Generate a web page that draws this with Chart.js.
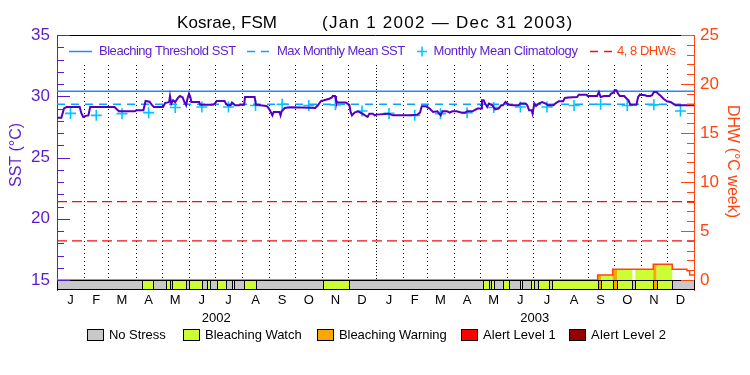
<!DOCTYPE html>
<html>
<head>
<meta charset="utf-8">
<script src="https://cdn.jsdelivr.net/npm/chart.js@4.4.1/dist/chart.umd.min.js"></script>
<style>
html,body{margin:0;padding:0;background:#fff;}
#box{position:relative;width:750px;height:375px;}
</style>
</head>
<body>
<div id="box"><canvas id="chart"></canvas></div>
<script>
// ---------------- data ----------------
const siteName = "Kosrae, FSM";
const periodLabel = "(Jan 1 2002 \u2014 Dec 31 2003)";
const yearLabels = ["2002", "2003"];
const monthLetters = ["J","F","M","A","M","J","J","A","S","O","N","D"];
const monthLengths = [31,28,31,30,31,30,31,31,30,31,30,31];

// SST (°C), day index from Jan 1 2002
const sstDay = [0,5,8,11,26,28,30,33,36,38,66,68.5,71,89,91,99,101.5,106,108.5,111,121.5,124,127,128.5,129.5,131,133,135.5,138.5,141,144,146,148,149.5,151.3,152.8,154,163,164,179,181,183,192,194,196,199,200.5,202,204,209,210,214.5,215.5,226.5,228,231,233,240,241.5,244,246.8,248.3,255,256.2,257.5,261,266.7,291,296,299,302.5,306,312,315,316,318.6,319.7,321.6,331,335,336.5,338,341,345,350,353,356,358,362,364,366,380,385,405,413,416,418,423,427,431,436,439.7,441.6,447,450,453,458,464,468,470,476,478,482,486,487,489,490,493,495,499,502,506,509,511,514,518,522,529,531,537,539,541,544,545,547,549,552,556,560,563,569,571,575,580,582,586,596,598,607,608,619,621,623,627,633,635,638,639,641,643,645,650,651,653,655,657,664,666,668,674,676,680,682,684,687,689,692,695,699,703,706,709,730];
const sstValue = [28.25,28.25,29.0,29.12,29.12,28.6,28.31,28.4,28.44,29.12,29.12,28.93,28.77,28.77,28.85,28.85,29.61,29.55,29.31,29.12,29.12,29.45,29.5,29.53,30.02,29.4,29.67,29.53,29.86,30.02,29.9,29.53,29.26,29.8,30.21,29.94,29.53,29.53,29.31,29.31,29.4,29.61,29.61,29.35,29.26,29.26,29.48,29.4,29.26,29.26,29.31,29.31,29.94,29.94,29.31,29.31,29.26,29.2,29.12,28.85,28.44,28.72,28.72,28.44,28.77,29.04,29.1,29.06,29.04,29.26,29.61,29.67,29.8,29.9,30.02,30.02,29.67,29.48,29.48,29.3,28.72,28.44,28.66,28.77,28.58,28.44,28.31,28.58,28.58,28.44,28.5,28.58,28.44,28.44,28.5,28.66,29.18,29.18,28.99,28.71,28.77,28.44,28.77,28.77,28.66,28.77,28.77,28.66,28.66,28.77,28.77,28.85,28.99,28.99,29.67,29.67,29.48,29.12,29.4,29.26,28.93,28.99,29.26,29.26,29.53,29.31,29.26,29.26,29.4,29.4,29.26,28.85,28.85,28.58,29.4,29.2,29.4,29.53,29.4,29.26,29.26,29.4,29.59,29.59,29.86,29.9,29.94,30.13,30.13,30.02,30.02,30.35,29.94,30.02,30.02,30.21,30.3,30.48,30.48,30.21,30.02,30.02,29.94,29.8,29.67,29.31,29.31,29.94,30.13,30.08,30.02,30.02,30.08,30.35,30.35,30.21,30.02,29.8,29.59,29.53,29.4,29.26,29.26];

// Monthly mean climatology (°C), Jan..Dec
const climatologyMonthly = [28.6,28.44,28.58,28.66,29.08,29.12,29.12,29.25,29.35,29.25,29.3,28.8];
const maxMonthlyMean = 29.35;
const bleachingThreshold = 30.4;
const dhwGuideLevels = [4, 8];

// Degree Heating Weeks (°C week), value holds from dhwDay[i] until dhwDay[i+1]
const dhwDay   = [0, 619.6, 636.8, 683.3, 705.1, 722, 725, 730];
const dhwValue = [0, 0.5,   1.1,   1.6,   1.1,   0.95, 0.5, 0.5];

// Stress level segments: level holds from stressStart[i] until next start
const stressStart = [0,97.1,109.7,125.3,129.5,131.4,147.5,150.9,165.8,171.6,175.3,183,193.3,200.2,203.2,213.9,227.7,304.5,335,487.8,494.7,497,501.1,511.5,518.3,530.6,532.9,543.6,547,550.9,564.2,566.9,619.6,623.4,636.8,642.1,659.3,662.7,683.3,687.2,705.1];
const stressLevel = [0,1,0,1,0,1,0,1,0,1,0,1,0,1,0,1,0,1,0,1,0,1,0,1,0,1,0,1,0,1,0,1,2,1,2,1,0,1,2,1,0];
const stressNames = ["No Stress","Bleaching Watch","Bleaching Warning","Alert Level 1","Alert Level 2"];

// ---------------- styles ----------------
const FONT = "'Liberation Sans', Arial, sans-serif";
const purple = '#5a1ccf';
const sstColor = '#5400c4';
const orange = '#ff4410';
const thrColor = '#1e8cff';
const mmmColor = '#0aa4ff';
const climColor = '#00c4ff';
const guideColor = '#ee1111';
const stressColors = ['#c8c8c8','#ccff33','#f8a800','#ff0000','#960000'];

// derived calendar helpers
const monthStarts = [];
let acc = 0;
for (let yi = 0; yi < yearLabels.length; yi++) {
  for (let m = 0; m < 12; m++) { monthStarts.push(acc); acc += monthLengths[m]; }
}
const totalDays = acc;
const monthMids = monthStarts.map((s, i) => s + monthLengths[i % 12] / 2);
const yearMids = yearLabels.map((_, i) => i * 365 + 182.5);
const climPoints = monthMids.map((d, i) => ({x: d, y: climatologyMonthly[i % 12]}));

Chart.defaults.font.family = FONT;

function drawText(ctx, s, x, y, size, color, opts = {}) {
  ctx.save();
  ctx.font = size + 'px ' + FONT;
  ctx.fillStyle = color;
  ctx.textBaseline = 'middle';
  ctx.textAlign = opts.align || 'left';
  if (opts.width) {
    const w = ctx.measureText(s).width;
    const n = Math.max(1, s.length - 1);
    ctx.letterSpacing = ((opts.width - w) / n).toFixed(2) + 'px';
  }
  ctx.translate(x, y);
  if (opts.rot) ctx.rotate(opts.rot);
  ctx.fillText(s, 0, 0);
  ctx.restore();
}

const crwPlugin = {
  id: 'crw',
  beforeDatasetsDraw(chart) {
    const {ctx, chartArea: a, scales: {x, y2}} = chart;
    const base = y2.getPixelForValue(0);
    ctx.save();
    // month boundary dotted lines
    ctx.strokeStyle = '#000';
    ctx.lineWidth = 1;
    monthStarts.forEach(d => {
      if (d <= 0 || d >= totalDays) return;
      const px = Math.round(x.getPixelForValue(d)) + 0.5;
      ctx.setLineDash(d % 365 === 0 ? [1, 2] : [1, 3]);
      ctx.beginPath();
      ctx.moveTo(px, a.top + 30);
      ctx.lineTo(px, base);
      ctx.stroke();
    });
    ctx.setLineDash([]);
    // DHW area coloured by stress level
    for (let i = 0; i < stressStart.length; i++) {
      if (stressLevel[i] < 1) continue;
      const s0 = stressStart[i];
      const s1 = i + 1 < stressStart.length ? stressStart[i + 1] : totalDays;
      for (let k = 0; k < dhwDay.length - 1; k++) {
        const lo = Math.max(s0, dhwDay[k]), hi = Math.min(s1, dhwDay[k + 1]);
        if (hi <= lo || dhwValue[k] <= 0) continue;
        const x0 = x.getPixelForValue(lo), x1 = x.getPixelForValue(hi);
        const yv = y2.getPixelForValue(dhwValue[k]);
        ctx.fillStyle = stressColors[stressLevel[i]];
        ctx.fillRect(x0, yv, x1 - x0, base - yv);
      }
    }
    ctx.restore();
  },
  afterDatasetsDraw(chart) {
    const {ctx, chartArea: a, scales: {x, y, y2}} = chart;
    const base = Math.round(y2.getPixelForValue(0));
    const bottom = Math.round(a.bottom);
    ctx.save();
    // stress bar
    ctx.lineWidth = 1;
    ctx.strokeStyle = '#000';
    for (let i = 0; i < stressStart.length; i++) {
      const s1 = i + 1 < stressStart.length ? stressStart[i + 1] : totalDays;
      const x0 = Math.round(x.getPixelForValue(stressStart[i]));
      const x1 = Math.round(x.getPixelForValue(s1));
      ctx.fillStyle = stressColors[stressLevel[i]];
      ctx.fillRect(x0, base, x1 - x0, bottom - base);
      ctx.strokeRect(x0 + 0.5, base + 0.5, x1 - x0, bottom - base - 1);
    }
    // top frame
    ctx.beginPath();
    ctx.moveTo(a.left, Math.round(a.top) + 0.5);
    ctx.lineTo(a.right, Math.round(a.top) + 0.5);
    ctx.stroke();
    // inward tick marks, left axis
    ctx.strokeStyle = purple;
    for (let v = 15; v <= 35; v++) {
      const py = Math.round(y.getPixelForValue(v)) + 0.5;
      const len = v % 5 === 0 ? 13 : 7;
      ctx.beginPath(); ctx.moveTo(a.left, py); ctx.lineTo(a.left + len, py); ctx.stroke();
    }
    // inward tick marks, right axis
    ctx.strokeStyle = orange;
    for (let v = 0; v <= 25; v++) {
      const py = Math.round(y2.getPixelForValue(v)) + 0.5;
      const len = v % 5 === 0 ? 13 : 7;
      ctx.beginPath(); ctx.moveTo(a.right, py); ctx.lineTo(a.right - len, py); ctx.stroke();
    }
    ctx.restore();
  },
  afterDraw(chart) {
    const {ctx, chartArea: a} = chart;
    // title
    drawText(ctx, siteName, 177, 23, 17, '#000', {width: 100});
    drawText(ctx, periodLabel, 322, 23, 17, '#000', {width: 250});
    // axis titles
    drawText(ctx, 'SST (\u00B0C)', 16.5, 155, 16, purple, {align: 'center', rot: -Math.PI / 2, width: 64});
    drawText(ctx, 'DHW (\u00B0C week)', 732, 161.5, 16, orange, {align: 'center', rot: Math.PI / 2, width: 113});
    // in-plot legend
    const ly = 51.5;
    ctx.save();
    ctx.lineWidth = 1.5;
    ctx.strokeStyle = thrColor;
    ctx.beginPath(); ctx.moveTo(69, ly); ctx.lineTo(92, ly); ctx.stroke();
    ctx.strokeStyle = mmmColor;
    ctx.setLineDash([8, 6]);
    ctx.beginPath(); ctx.moveTo(247, ly); ctx.lineTo(269, ly); ctx.stroke();
    ctx.strokeStyle = guideColor;
    ctx.beginPath(); ctx.moveTo(590, ly); ctx.lineTo(612, ly); ctx.stroke();
    ctx.setLineDash([]);
    ctx.strokeStyle = climColor;
    ctx.lineWidth = 1.5;
    ctx.beginPath();
    ctx.moveTo(417, ly); ctx.lineTo(427, ly);
    ctx.moveTo(422, ly - 5); ctx.lineTo(422, ly + 5);
    ctx.stroke();
    ctx.restore();
    drawText(ctx, 'Bleaching Threshold SST', 99, ly, 13, purple, {width: 137});
    drawText(ctx, 'Max Monthly Mean SST', 277, ly, 13, purple, {width: 128});
    drawText(ctx, 'Monthly Mean Climatology', 433.5, ly, 13, purple, {width: 144.5});
    drawText(ctx, '4, 8 DHWs', 617, ly, 13, orange, {width: 59});
    // stress legend
    const boxX = [87.5, 183.5, 317.5, 461.5, 569.5];
    const textW = [56.7, 96.7, 107.7, 72.7, 75];
    ctx.save();
    ctx.strokeStyle = '#000';
    ctx.lineWidth = 1;
    stressNames.forEach((name, i) => {
      ctx.fillStyle = stressColors[i];
      ctx.fillRect(boxX[i], 329.5, 16, 11);
      ctx.strokeRect(boxX[i], 329.5, 16, 11);
    });
    ctx.restore();
    stressNames.forEach((name, i) => {
      drawText(ctx, name, boxX[i] + 21.5, 335.5, 13, '#000', {width: textW[i]});
    });
  }
};

new Chart(document.getElementById('chart'), {
  type: 'line',
  data: {
    datasets: [
      {label: 'SST', data: sstDay.map((d, i) => ({x: d, y: sstValue[i]})), borderColor: sstColor, borderWidth: 2, pointRadius: 0, xAxisID: 'x', yAxisID: 'y'},
      {label: 'Monthly Mean Climatology', data: climPoints, showLine: false, pointStyle: 'cross', pointRadius: 5.5, pointBorderWidth: 1.6, borderColor: climColor, pointBorderColor: climColor, xAxisID: 'x', yAxisID: 'y'},
      {label: 'Bleaching Threshold SST', data: [{x: 0, y: bleachingThreshold}, {x: totalDays, y: bleachingThreshold}], borderColor: thrColor, borderWidth: 1.5, pointRadius: 0, xAxisID: 'x', yAxisID: 'y'},
      {label: 'Max Monthly Mean SST', data: [{x: 0, y: maxMonthlyMean}, {x: totalDays, y: maxMonthlyMean}], borderColor: mmmColor, borderWidth: 1.5, borderDash: [8, 6], pointRadius: 0, xAxisID: 'x', yAxisID: 'y'},
      {label: 'DHW', data: dhwDay.map((d, i) => ({x: d, y: dhwValue[i]})), stepped: 'before', borderColor: orange, borderWidth: 1.5, pointRadius: 0, xAxisID: 'x', yAxisID: 'y2'},
      ...dhwGuideLevels.map(v => ({label: v + ' DHW', data: [{x: 0, y: v}, {x: totalDays, y: v}], borderColor: guideColor, borderWidth: 1.2, borderDash: [10, 5], pointRadius: 0, xAxisID: 'x', yAxisID: 'y2'}))
    ]
  },
  options: {
    responsive: true,
    maintainAspectRatio: false,
    devicePixelRatio: 1,
    animation: false,
    events: [],
    layout: {padding: {top: 35, left: 0, right: 0, bottom: 0}},
    plugins: {legend: {display: false}, title: {display: false}, tooltip: {enabled: false}},
    scales: {
      x: {
        type: 'linear', position: 'bottom', min: 0, max: totalDays, weight: 0,
        afterBuildTicks: s => { s.ticks = monthMids.map(v => ({value: v})); },
        ticks: {autoSkip: false, maxRotation: 0, color: '#000', font: {size: 13}, padding: 3, callback: (v, i) => monthLetters[i % 12]},
        grid: {display: false, drawTicks: false}, border: {display: false},
        afterFit: s => { s.height = 17; }
      },
      xYear: {
        type: 'linear', position: 'bottom', min: 0, max: totalDays, weight: 1,
        afterBuildTicks: s => { s.ticks = yearMids.map(v => ({value: v})); },
        ticks: {autoSkip: false, maxRotation: 0, color: '#000', font: {size: 13}, padding: 4, callback: (v, i) => yearLabels[i]},
        grid: {display: false, drawTicks: false}, border: {display: false},
        afterFit: s => { s.height = 68; }
      },
      y: {
        type: 'linear', position: 'left', min: 14.184, max: 35,
        afterBuildTicks: s => { s.ticks = [15, 20, 25, 30, 35].map(v => ({value: v})); },
        ticks: {color: purple, font: {size: 17}, padding: 7},
        grid: {display: false, drawTicks: false}, border: {display: true, color: purple, width: 1},
        afterFit: s => { s.width = 57; }
      },
      y2: {
        type: 'linear', position: 'right', min: -1.0204, max: 25,
        afterBuildTicks: s => { s.ticks = [0, 5, 10, 15, 20, 25].map(v => ({value: v})); },
        ticks: {color: orange, font: {size: 17}, padding: 6},
        grid: {display: false, drawTicks: false}, border: {display: true, color: orange, width: 1},
        afterFit: s => { s.width = 56; }
      }
    }
  },
  plugins: [crwPlugin]
});
</script>
</body>
</html>
